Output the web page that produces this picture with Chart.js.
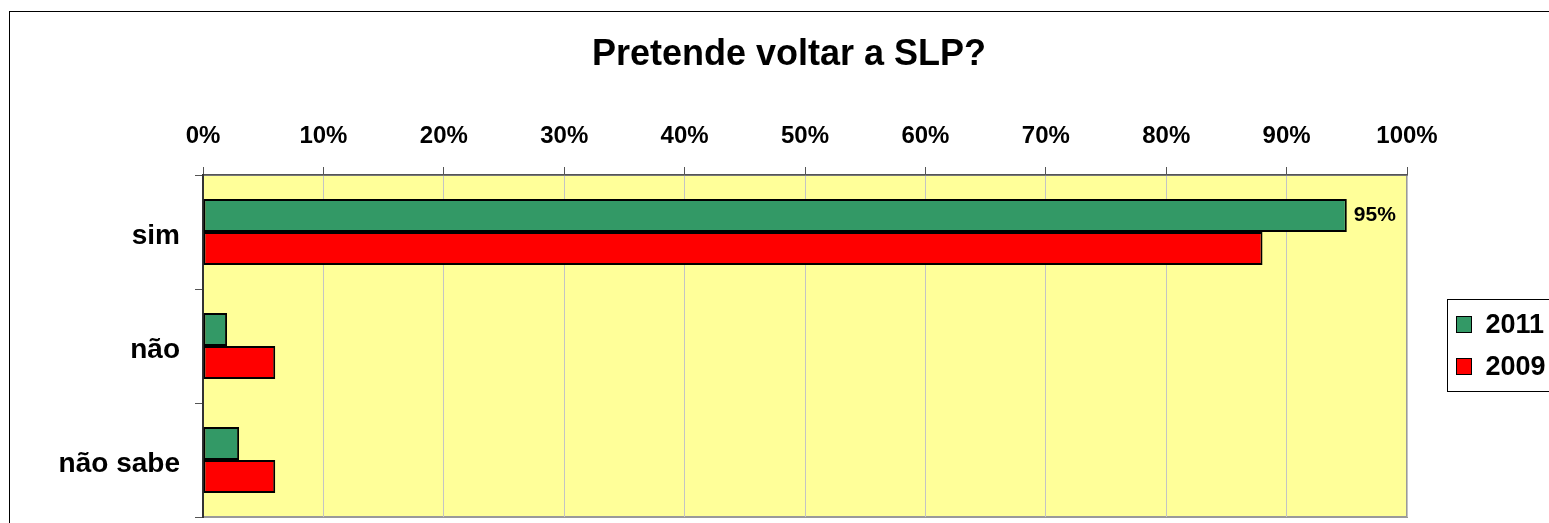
<!DOCTYPE html>
<html>
<head>
<meta charset="utf-8">
<title>Pretende voltar a SLP?</title>
<script src="https://cdn.jsdelivr.net/npm/chart.js@4.4.1/dist/chart.umd.min.js"></script>
<style>
  html, body { margin: 0; padding: 0; background: #fff; overflow: hidden; }
  #wrap { position: relative; width: 1549px; height: 523px; overflow: hidden; }
  #frame { position: absolute; left: 9px; top: 11px; width: 1700px; height: 700px; border: 1px solid #000; box-sizing: border-box; }
  #chart { position: absolute; left: 0; top: 0; }
</style>
</head>
<body>
<div id="wrap">
  <div id="frame"></div>
  <canvas id="chart" width="1549" height="523"></canvas>
</div>
<script>
// Answers and yearly shares (%)
const categories = ['sim', 'não', 'não sabe'];
const seriesNames = ['2011', '2009'];
const values2011 = [95, 2, 3];
const values2009 = [88, 6, 6];
const seriesColors = ['#339966', '#FF0000'];
// only the 2011 "sim" bar carries a value label
const labelled2011 = [true, false, false];
const xTicks = [0, 10, 20, 30, 40, 50, 60, 70, 80, 90, 100];
const titleText = 'Pretende voltar a SLP?';

const FONT = '"Liberation Sans", Arial, sans-serif';

// yellow plot area with grey frame
const plotBg = {
  id: 'plotBg',
  beforeDraw(chart) {
    const { ctx, chartArea: a } = chart;
    ctx.save();
    ctx.fillStyle = '#FFFF99';
    ctx.fillRect(a.left, a.top, a.right - a.left, a.bottom - a.top);
    ctx.strokeStyle = '#9a9a9a';
    ctx.lineWidth = 2;
    ctx.strokeRect(a.left, a.top, a.right - a.left, a.bottom - a.top);
    ctx.restore();
  }
};

// title centred over the whole frame, not only the plot
const frameTitle = {
  id: 'frameTitle',
  afterDraw(chart) {
    const { ctx } = chart;
    ctx.save();
    ctx.font = 'bold 36px ' + FONT;
    ctx.fillStyle = '#000';
    ctx.textAlign = 'center';
    ctx.textBaseline = 'middle';
    ctx.fillText(titleText, 789, 55);
    ctx.restore();
  }
};

// boxed legend to the right of the plot (runs past the frame edge)
const boxLegend = {
  id: 'boxLegend',
  afterDraw(chart) {
    const { ctx } = chart;
    const x = 1447.5, y = 299.5;
    ctx.save();
    ctx.fillStyle = '#fff';
    ctx.fillRect(x, y, 200, 92);
    ctx.strokeStyle = '#000';
    ctx.lineWidth = 1;
    ctx.strokeRect(x, y, 200, 92);
    ctx.font = 'bold 27px ' + FONT;
    ctx.textAlign = 'left';
    ctx.textBaseline = 'middle';
    seriesNames.forEach((name, i) => {
      const cy = y + 25 + i * 42;
      ctx.fillStyle = seriesColors[i];
      ctx.fillRect(x + 9, cy - 8, 15, 16);
      ctx.strokeRect(x + 9, cy - 8, 15, 16);
      ctx.fillStyle = '#000';
      ctx.fillText(name, x + 38, cy + 1);
    });
    ctx.restore();
  }
};

const valueLabels = {
  id: 'valueLabels',
  afterDatasetsDraw(chart) {
    const { ctx } = chart;
    const meta = chart.getDatasetMeta(0);
    ctx.save();
    ctx.font = 'bold 21px ' + FONT;
    ctx.fillStyle = '#000';
    ctx.textAlign = 'left';
    ctx.textBaseline = 'middle';
    meta.data.forEach((bar, i) => {
      if (!labelled2011[i]) return;
      ctx.fillText(values2011[i] + '%', bar.x + 7, bar.y);
    });
    ctx.restore();
  }
};

new Chart(document.getElementById('chart'), {
  type: 'bar',
  data: {
    labels: categories,
    datasets: [
      { label: seriesNames[0], data: values2011, backgroundColor: seriesColors[0], borderColor: '#000', borderWidth: 2, borderSkipped: false },
      { label: seriesNames[1], data: values2009, backgroundColor: seriesColors[1], borderColor: '#000', borderWidth: 2, borderSkipped: false }
    ]
  },
  options: {
    indexAxis: 'y',
    responsive: false,
    animation: false,
    layout: { padding: { left: 0, right: 142, top: 86, bottom: 6 } },
    datasets: { bar: { categoryPercentage: 0.58, barPercentage: 1.0 } },
    plugins: {
      legend: { display: false },
      tooltip: { enabled: false },
      title: { display: false }
    },
    scales: {
      x: {
        position: 'top',
        min: 0,
        max: 100,
        afterBuildTicks: (scale) => { scale.ticks = xTicks.map(v => ({ value: v })); },
        afterFit: (scale) => { scale.height = 89; scale.paddingLeft = 0; scale.paddingRight = 0; },
        grid: { color: '#c4c4c4', lineWidth: 1, tickColor: '#555', tickLength: 8 },
        border: { color: '#555', width: 1.5 },
        ticks: {
          color: '#000',
          padding: 16,
          font: { family: FONT, size: 24, weight: 'bold' },
          callback: (v) => v + '%'
        }
      },
      y: {
        afterFit: (scale) => { scale.width = 203; scale.paddingTop = 0; scale.paddingBottom = 0; },
        grid: { offset: true, drawOnChartArea: false, tickColor: '#555', tickLength: 8 },
        border: { color: '#333', width: 2 },
        ticks: {
          color: '#000',
          padding: 15,
          labelOffset: 4,
          font: { family: FONT, size: 28, weight: 'bold' }
        }
      }
    }
  },
  plugins: [plotBg, valueLabels, frameTitle, boxLegend]
});
</script>
</body>
</html>
